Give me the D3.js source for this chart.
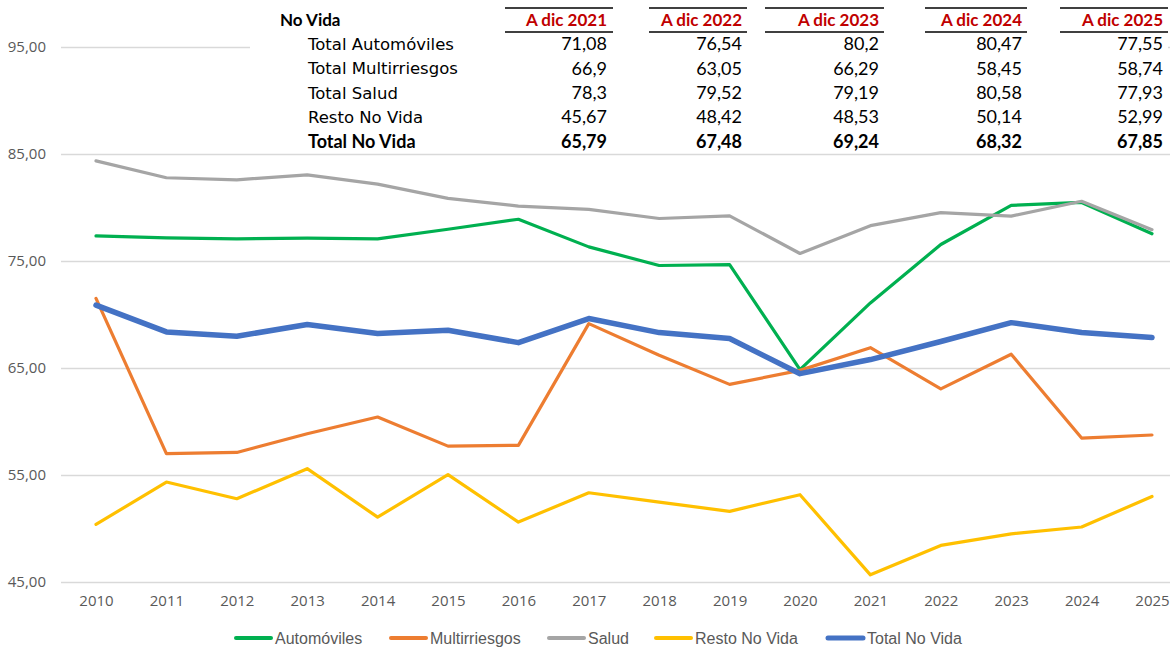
<!DOCTYPE html>
<html>
<head>
<meta charset="utf-8">
<script src="https://d3js.org/d3.v7.min.js"></script>
<style>
  html, body { margin: 0; padding: 0; background: #fff; }
  svg { display: block; }
  .ylab, .xlab { font-family: 'Open Sans', sans-serif; font-size: 15px; fill: #595959; }
  .leg { font-family: 'Liberation Sans', Arial, sans-serif; font-size: 16px; fill: #595959; }
  .rowlab { font-family: 'DejaVu Sans', sans-serif; font-size: 16.5px; fill: #000; }
  .num { font-family: Lato, sans-serif; font-size: 18px; fill: #000; }
  .hdr { font-family: Lato, sans-serif; font-size: 17px; font-weight: bold; fill: #C00000; }
</style>
</head>
<body>
<div id="chart"></div>
<script>
// years on the x axis
var years = ['2010','2011','2012','2013','2014','2015','2016','2017','2018','2019','2020','2021','2022','2023','2024','2025'];
var yTicks = [45, 55, 65, 75, 85, 95];

// series
var automoviles   = [77.35, 77.16, 77.07, 77.13, 77.07, 77.97, 78.9, 76.32, 74.58, 74.67, 64.85, 71.08, 76.54, 80.2, 80.47, 77.55];
var multirriesgos = [71.5, 56.99, 57.11, 58.86, 60.42, 57.7, 57.77, 69.15, 66.19, 63.47, 64.78, 66.9, 63.05, 66.29, 58.45, 58.74];
var salud         = [84.36, 82.78, 82.59, 83.05, 82.18, 80.85, 80.13, 79.82, 78.97, 79.22, 75.7, 78.3, 79.52, 79.19, 80.58, 77.93];
var restoNoVida   = [50.38, 54.34, 52.78, 55.59, 51.06, 55.03, 50.6, 53.34, 52.47, 51.6, 53.16, 45.67, 48.42, 49.5, 50.14, 52.99];
var totalNoVida   = [70.87, 68.37, 67.97, 69.06, 68.22, 68.53, 67.37, 69.62, 68.31, 67.75, 64.47, 65.79, 67.48, 69.24, 68.32, 67.85];

var seriesNames = ['Automóviles', 'Multirriesgos', 'Salud', 'Resto No Vida', 'Total No Vida'];
var seriesColors = ['#00B050', '#ED7D31', '#A5A5A5', '#FFC000', '#4472C4'];

// table on top
var tableTitle = 'No Vida';
var tableCols = ['A dic 2021', 'A dic 2022', 'A dic 2023', 'A dic 2024', 'A dic 2025'];
var tableRows = ['Total Automóviles', 'Total Multirriesgos', 'Total Salud', 'Resto No Vida', 'Total No Vida'];
var tableVals = [
  ['71,08', '76,54', '80,2', '80,47', '77,55'],
  ['66,9', '63,05', '66,29', '58,45', '58,74'],
  ['78,3', '79,52', '79,19', '80,58', '77,93'],
  ['45,67', '48,42', '48,53', '50,14', '52,99'],
  ['65,79', '67,48', '69,24', '68,32', '67,85']
];

var W = 1173, H = 648;
var svg = d3.select('#chart').append('svg').attr('width', W).attr('height', H);

var x = d3.scalePoint().domain(years).range([96, 1152]);
var y = d3.scaleLinear().domain([45, 95]).range([582, 47]);

var fmt = function(v){ return d3.format('.2f')(v).replace('.', ','); };

// gridlines + y labels
var yAxis = svg.append('g').attr('transform', 'translate(61,0)')
  .call(d3.axisLeft(y).tickValues(yTicks).tickSize(-1109).tickFormat(fmt));
yAxis.select('.domain').remove();
yAxis.selectAll('line').attr('stroke', '#D9D9D9').attr('stroke-width', 1.3);
yAxis.selectAll('text').attr('class', 'ylab').attr('x', -15).attr('font-family', null).attr('font-size', null).attr('fill', null);

// x labels
var xAxis = svg.append('g').attr('transform', 'translate(0,582)')
  .call(d3.axisBottom(x).tickSize(0).tickPadding(13));
xAxis.select('.domain').remove();
xAxis.selectAll('text').attr('class', 'xlab').attr('font-family', null).attr('font-size', null).attr('fill', null);

// lines
var allSeries = [automoviles, multirriesgos, salud, restoNoVida, totalNoVida];
var line = d3.line().x(function(d, i){ return x(years[i]); }).y(function(d){ return y(d); });
allSeries.forEach(function(s, k){
  svg.append('path').datum(s)
    .attr('d', line)
    .attr('fill', 'none')
    .attr('stroke', seriesColors[k])
    .attr('stroke-width', k == 4 ? 5.5 : 3.2)
    .attr('stroke-linejoin', 'round')
    .attr('stroke-linecap', 'round');
});

// legend
var legX = [236, 391, 549, 656, 828];
var leg = svg.append('g');
seriesNames.forEach(function(n, k){
  leg.append('line').attr('x1', legX[k]).attr('x2', legX[k] + 35).attr('y1', 638).attr('y2', 638)
    .attr('stroke', seriesColors[k]).attr('stroke-width', k == 4 ? 5 : 4).attr('stroke-linecap', 'round');
  leg.append('text').attr('class', 'leg').attr('x', legX[k] + 39).attr('y', 638).attr('dy', '0.35em').text(n);
});

// table
var tb = svg.append('g');
tb.append('rect').attr('x', 250).attr('y', 0).attr('width', 918).attr('height', 152).attr('fill', '#fff');
var colRight = [607, 742, 879, 1022, 1163];
var colLeft = [505, 649, 765, 925, 1060];
var colLineR = [613, 747, 884, 1027, 1168];
var rowY = [44, 68.5, 93, 117, 141.5];

tb.append('text').attr('x', 280).attr('y', 20).attr('dy', '0.35em')
  .attr('font-family', 'Lato, sans-serif').attr('font-size', 17).attr('font-weight', 'bold').text(tableTitle);

tableCols.forEach(function(c, j){
  tb.append('line').attr('x1', colLeft[j]).attr('x2', colLineR[j]).attr('y1', 8).attr('y2', 8).attr('stroke', '#000').attr('stroke-width', 1.5);
  tb.append('line').attr('x1', colLeft[j]).attr('x2', colLineR[j]).attr('y1', 32).attr('y2', 32).attr('stroke', '#000').attr('stroke-width', 1.5);
  tb.append('text').attr('class', 'hdr').attr('x', colRight[j]).attr('y', 20).attr('dy', '0.35em')
    .attr('text-anchor', 'end').text(c);
});

tableRows.forEach(function(r, i){
  var bold = i == 4;
  tb.append('text').attr('x', 308).attr('y', rowY[i]).attr('dy', '0.35em')
    .attr('class', bold ? null : 'rowlab')
    .attr('font-family', bold ? 'Lato, sans-serif' : null)
    .attr('font-size', bold ? 18 : null)
    .attr('font-weight', bold ? 'bold' : null)
    .text(r);
  tableVals[i].forEach(function(v, j){
    tb.append('text').attr('class', 'num').attr('x', colRight[j]).attr('y', rowY[i]).attr('dy', '0.35em')
      .attr('text-anchor', 'end').attr('font-weight', bold ? 'bold' : null).text(v);
  });
});
</script>
</body>
</html>
